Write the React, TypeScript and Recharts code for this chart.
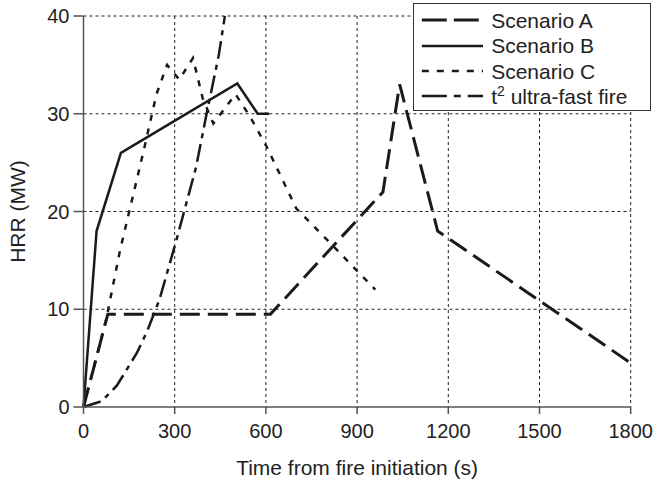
import React from "react";
import { LineChart, Line, XAxis, YAxis, CartesianGrid, Legend } from "recharts";

// time (s) vs HRR (MW)
const scenarioA = [
  { t: 0, hrr: 0 },
  { t: 80, hrr: 9.5 },
  { t: 615, hrr: 9.5 },
  { t: 985, hrr: 22 },
  { t: 1040, hrr: 33 },
  { t: 1165, hrr: 18 },
  { t: 1800, hrr: 4.5 },
];

const scenarioB = [
  { t: 0, hrr: 0 },
  { t: 43, hrr: 18 },
  { t: 123, hrr: 26 },
  { t: 506, hrr: 33.1 },
  { t: 573, hrr: 30 },
  { t: 611, hrr: 30 },
];

const scenarioC = [
  { t: 0, hrr: 0 },
  { t: 75, hrr: 9 },
  { t: 120, hrr: 16 },
  { t: 200, hrr: 26.5 },
  { t: 240, hrr: 32 },
  { t: 275, hrr: 35 },
  { t: 315, hrr: 33.5 },
  { t: 360, hrr: 35.7 },
  { t: 392, hrr: 31.6 },
  { t: 427, hrr: 29 },
  { t: 500, hrr: 32 },
  { t: 548, hrr: 29.7 },
  { t: 603, hrr: 26.6 },
  { t: 700, hrr: 20.3 },
  { t: 820, hrr: 16.5 },
  { t: 960, hrr: 12 },
];

const ultraFast = [
  { t: 0, hrr: 0 },
  { t: 60, hrr: 0.6 },
  { t: 110, hrr: 2.2 },
  { t: 175, hrr: 5.5 },
  { t: 210, hrr: 7.8 },
  { t: 250, hrr: 11 },
  { t: 305, hrr: 17 },
  { t: 370, hrr: 24.5 },
  { t: 405, hrr: 30 },
  { t: 445, hrr: 36 },
  { t: 465, hrr: 40 },
];

const xTicks = [0, 300, 600, 900, 1200, 1500, 1800];
const yTicks = [0, 10, 20, 30, 40];

const INK = "#1a1a1a";
const TEXT = "#222";

const series = [
  { key: "A", label: <>Scenario A</>, data: scenarioA, dash: "20 8", legendDash: "25 7", width: 3 },
  { key: "B", label: <>Scenario B</>, data: scenarioB, dash: undefined, legendDash: undefined, width: 2.5 },
  { key: "C", label: <>Scenario C</>, data: scenarioC, dash: "6 8", legendDash: "7 8", width: 2.5 },
  {
    key: "T",
    label: (
      <>
        t<sup style={{ fontSize: 14, lineHeight: 0 }}>2</sup> ultra-fast fire
      </>
    ),
    data: ultraFast,
    dash: "18 6 5 6",
    legendDash: "25 7 7 7",
    width: 2.5,
  },
];

function LegendBox() {
  return (
    <div
      style={{
        width: 238,
        height: 108,
        boxSizing: "border-box",
        border: "1.5px solid #333",
        background: "#fff",
        paddingTop: 3.5,
      }}
    >
      {series.map((s) => (
        <div key={s.key} style={{ display: "flex", alignItems: "center", height: 25.3 }}>
          <svg width={77.5} height={10} style={{ flex: "none" }}>
            <line
              x1={7.8}
              x2={69}
              y1={5}
              y2={5}
              stroke={INK}
              strokeWidth={s.width}
              strokeDasharray={s.legendDash}
            />
          </svg>
          <span style={{ fontSize: 21, color: TEXT, lineHeight: 1, whiteSpace: "nowrap" }}>{s.label}</span>
        </div>
      ))}
    </div>
  );
}

export default function App() {
  return (
    <div
      style={{
        position: "absolute",
        left: 0,
        top: 0,
        width: 654,
        height: 482,
        background: "#fff",
        fontFamily: "'Liberation Sans', Arial, sans-serif",
      }}
    >
      <LineChart width={654} height={482} margin={{ top: 16, right: 23.3, bottom: 0, left: 13.5 }}>
        <CartesianGrid
          stroke="#222"
          strokeWidth={1}
          strokeDasharray="3 3"
          verticalValues={[300, 600, 900, 1200, 1500, 1800]}
          horizontalValues={[10, 20, 30, 40]}
        />
        <XAxis
          type="number"
          dataKey="t"
          domain={[0, 1800]}
          ticks={xTicks}
          height={75}
          tickSize={7}
          tickMargin={10}
          axisLine={{ stroke: "#555", strokeWidth: 1.5 }}
          tickLine={{ stroke: "#555", strokeWidth: 1.5 }}
          tick={{ fill: TEXT, fontSize: 20 }}
          label={{ value: "Time from fire initiation (s)", position: "insideBottom", offset: 7, fill: TEXT, fontSize: 21 }}
        />
        <YAxis
          type="number"
          domain={[0, 40]}
          ticks={yTicks}
          width={70}
          tickSize={10}
          tickMargin={4}
          axisLine={{ stroke: "#555", strokeWidth: 1.5 }}
          tickLine={{ stroke: "#555", strokeWidth: 1.5 }}
          tick={{ fill: TEXT, fontSize: 20 }}
          label={{
            value: "HRR (MW)",
            angle: -90,
            position: "insideLeft",
            offset: 4.5,
            fill: TEXT,
            fontSize: 21,
            style: { textAnchor: "middle" },
          }}
        />
        {series.map((s) => (
          <Line
            key={s.key}
            data={s.data}
            dataKey="hrr"
            type="linear"
            stroke={INK}
            strokeWidth={s.width}
            strokeDasharray={s.dash}
            dot={false}
            activeDot={false}
            isAnimationActive={false}
          />
        ))}
        <Legend
          layout="vertical"
          align="center"
          verticalAlign="middle"
          content={() => <LegendBox />}
          wrapperStyle={{ position: "absolute", left: 412.7, top: 3.3, width: 238, height: 108 }}
        />
      </LineChart>
    </div>
  );
}
